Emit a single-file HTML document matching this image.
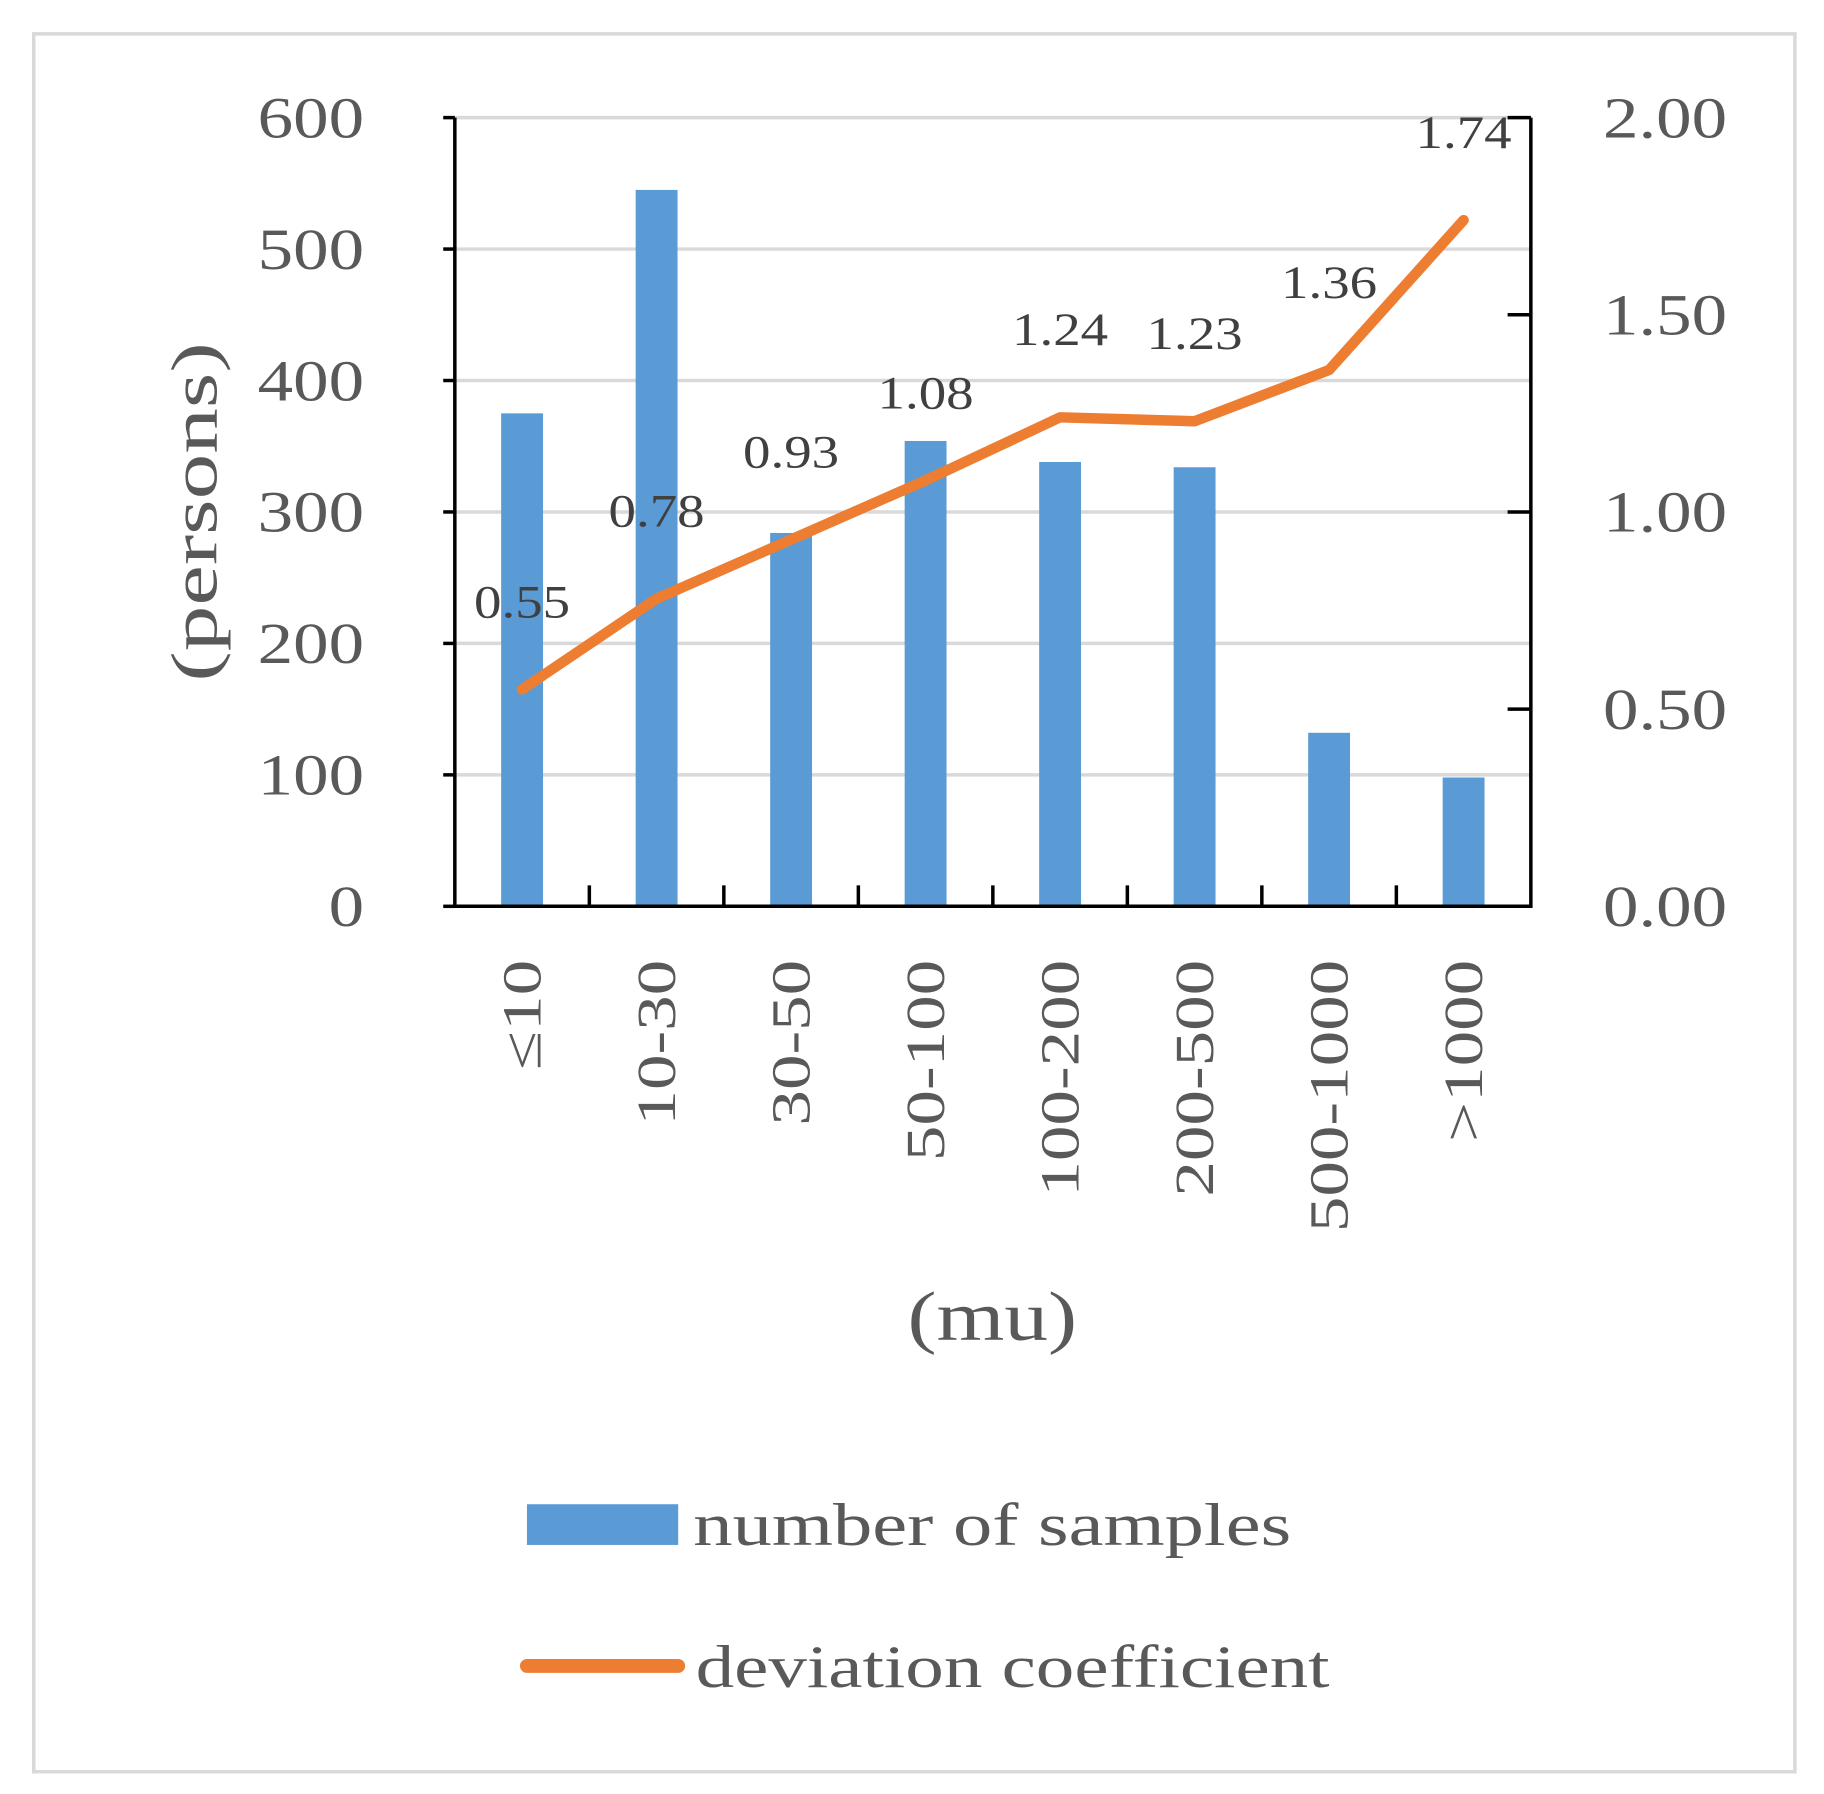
<!DOCTYPE html>
<html><head><meta charset="utf-8"><style>
html,body{margin:0;padding:0;background:#fff}
svg{display:block}
text{font-family:"Liberation Serif",serif}
</style></head><body>
<svg id="chart" width="1824" height="1794" viewBox="0 0 1568 1542" xmlns="http://www.w3.org/2000/svg">
<rect x="29" y="29" width="1514" height="1494" fill="#fff" stroke="#d9d9d9" stroke-width="3"/>
<g id="grid"></g><g id="bars"></g><g id="axes"></g><g id="line"></g><g id="labels"></g>
<text data-w="1.4" transform="translate(186,440) rotate(-90)" text-anchor="middle" font-size="56" fill="#595959">(persons)</text>
<text data-w="1.25" x="853" y="1152" text-anchor="middle" font-size="60" fill="#595959">(mu)</text>
<g>
<rect x="453" y="1293" width="130" height="35" fill="#5b9bd5"/>
<text data-len="514" x="596" y="1328" font-size="52" fill="#595959">number of samples</text>
<line x1="453" y1="1432" x2="583" y2="1432" stroke="#ed7d31" stroke-width="12" stroke-linecap="round"/>
<text data-len="545" x="598" y="1450" font-size="52" fill="#595959">deviation coefficient</text>
</g>
</svg>
<script>
const categories=["≤10","10-30","30-50","50-100","100-200","200-500","500-1000",">1000"];
const samples=[375,545,284,354,338,334,132,98];
const deviation=[0.55,0.78,0.93,1.08,1.24,1.23,1.36,1.74];
const leftTicks=[0,100,200,300,400,500,600];
const rightTicks=["0.00","0.50","1.00","1.50","2.00"];
const NS="http://www.w3.org/2000/svg";
const L=391,R=1316,T=101,B=779;
const yL=v=>B-(B-T)*v/600, yR=v=>B-(B-T)*v/2;
const bw=(R-L)/categories.length, xc=i=>L+bw*(i+0.5);
function mk(tag,attrs,parent,txt){const e=document.createElementNS(NS,tag);for(const k in attrs)e.setAttribute(k,attrs[k]);if(txt!==undefined)e.textContent=txt;document.getElementById(parent).appendChild(e);return e;}
leftTicks.forEach(v=>{
  if(v>0){const g=mk('line',{x1:L,x2:R,y1:yL(v),y2:yL(v),stroke:'#d9d9d9','stroke-width':3},'grid');
  
  }
  const t=mk('text',{x:313,y:yL(v)+17,'text-anchor':'end','font-size':50,fill:'#595959','data-w':1.22},'labels',String(v));
  
  
  const tk=mk('line',{x1:L-10,x2:L,y1:yL(v),y2:yL(v),stroke:'#000','stroke-width':3},'axes');
  
  
});
rightTicks.forEach(s=>{
  const v=parseFloat(s);
  const t=mk('text',{x:1378,y:yR(v)+17,'font-size':50,fill:'#595959','data-w':1.22},'labels',s);
  
  
  const tk=mk('line',{x1:R-20,x2:R,y1:yR(v),y2:yR(v),stroke:'#000','stroke-width':3},'axes');
  
  
});
samples.forEach((v,i)=>{
  const r=mk('rect',{x:xc(i)-18,y:yL(v),width:36,height:B-yL(v),fill:'#5b9bd5'},'bars');
  
  
});
categories.forEach((c,i)=>{
  const t=mk('text',{transform:`translate(${xc(i)+16},825) rotate(-90)`,'text-anchor':'end','font-size':47,fill:'#595959','data-w':1.3},'labels',c);
  
  
  if(i>0){const tk=mk('line',{x1:L+bw*i,x2:L+bw*i,y1:B-18,y2:B,stroke:'#000','stroke-width':3},'axes');
  
  }
});
const ax=mk('path',{d:`M${L},${T} V${B} H${R} V${T}`,fill:'none',stroke:'#000','stroke-width':3},'axes');


const pts=deviation.map((v,i)=>xc(i)+','+yR(v)).join(' ');
const pl=mk('polyline',{points:pts,fill:'none',stroke:'#ed7d31','stroke-width':9,'stroke-linecap':'round','stroke-linejoin':'round'},'line');


deviation.forEach((v,i)=>{
  const t=mk('text',{x:xc(i),y:yR(v)-62,'text-anchor':'middle','font-size':40,fill:'#404040','data-w':1.18},'labels',v.toFixed(2));
  
  
});
document.querySelectorAll('text').forEach(t=>{
  let len=null;
  if(t.getAttribute('data-len'))len=parseFloat(t.getAttribute('data-len'));
  else if(t.getAttribute('data-w'))len=t.getComputedTextLength()*parseFloat(t.getAttribute('data-w'));
  if(len){t.setAttribute('textLength',len);t.setAttribute('lengthAdjust','spacingAndGlyphs');}
});
</script>
</body></html>
